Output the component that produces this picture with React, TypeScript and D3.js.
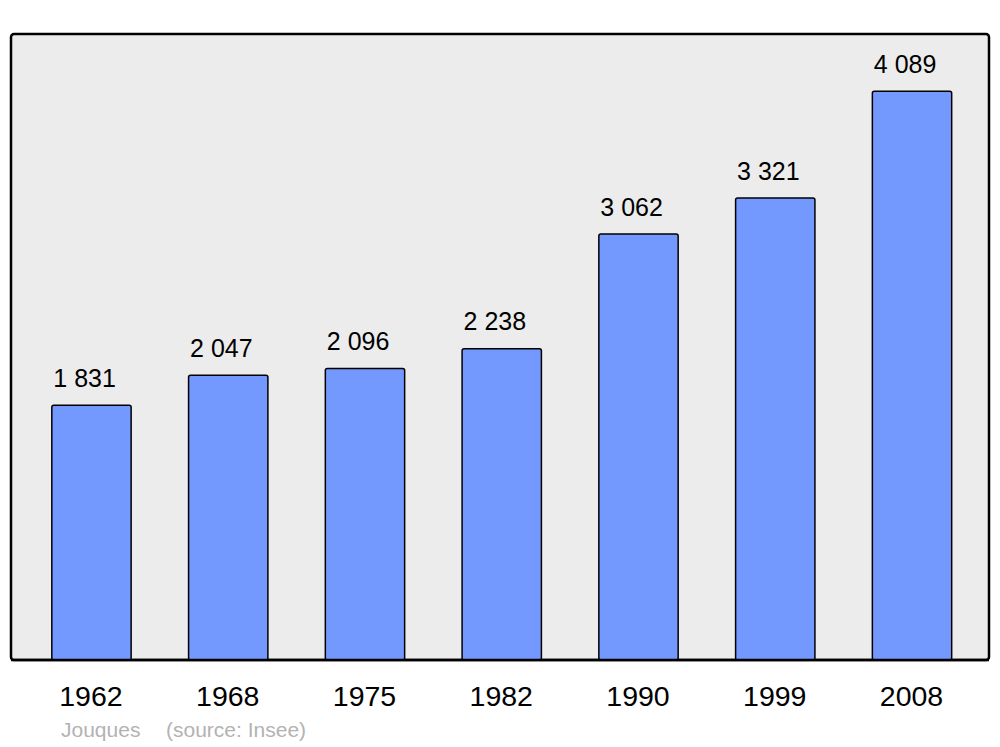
import React from "react";
import * as d3 from "d3";

const years: string[] = ["1962", "1968", "1975", "1982", "1990", "1999", "2008"];
const population: number[] = [1831, 2047, 2096, 2238, 3062, 3321, 4089];
const commune = "Jouques";
const source = "(source: Insee)";

const W = 1000;
const H = 747;
const left = 11;
const right = 989;
const top = 34;
const bottom = 660;

const fmt = (v: number) => {
  const s = String(v);
  return s.replace(/\B(?=(\d{3})+(?!\d))/g, " ");
};

export default function App() {
  const x = d3
    .scaleBand<string>()
    .domain(years)
    .range([23.1, 980.4])
    .paddingInner(0.42)
    .paddingOuter(0.21);
  const y = d3.scaleLinear().domain([0, 4500]).range([bottom, top]);
  const font = "'Liberation Sans', Arial, sans-serif";

  return (
    <svg
      width={W}
      height={H}
      style={{ position: "absolute", left: 0, top: 0, background: "#fff" }}
      fontFamily={font}
    >
      <rect
        x={left}
        y={top}
        width={right - left}
        height={bottom - top}
        rx={3}
        fill="#ececec"
        stroke="#000"
        strokeWidth={2.5}
      />
      {years.map((yr, i) => {
        const v = population[i];
        const bx = x(yr) as number;
        const bw = x.bandwidth();
        const yt = y(v);
        return (
          <g key={yr}>
            <rect
              x={bx}
              y={yt}
              width={bw}
              height={bottom - yt}
              rx={2}
              fill="#7399ff"
              stroke="#000"
              strokeWidth={1.5}
            />
            <text
              x={bx + 1.5}
              y={yt - 18.5}
              textAnchor="start"
              fontSize={25}
              fill="#000"
            >
              {fmt(v)}
            </text>
            <text
              x={bx + bw / 2 - 0.5}
              y={706}
              textAnchor="middle"
              fontSize={28.5}
              fill="#000"
            >
              {yr}
            </text>
          </g>
        );
      })}
      <line x1={left} x2={right} y1={bottom} y2={bottom} stroke="#000" strokeWidth={2.5} />
      <text x={61} y={737} fontSize={21} fill="#b3b3b3">
        {commune}
      </text>
      <text x={166} y={737} fontSize={21} fill="#b3b3b3">
        {source}
      </text>
    </svg>
  );
}
